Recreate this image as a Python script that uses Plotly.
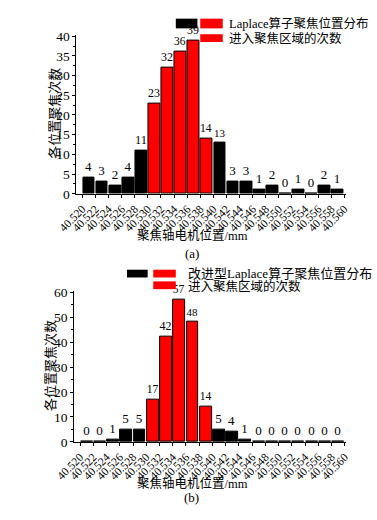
import plotly.graph_objects as go

# ---- data ----
tick_labels = ["40.520", "40.522", "40.524", "40.526", "40.528", "40.530", "40.532",
               "40.534", "40.536", "40.538", "40.540", "40.542", "40.544", "40.546",
               "40.548", "40.550", "40.552", "40.554", "40.556", "40.558", "40.560"]
counts_a = [4, 3, 2, 4, 11, 23, 32, 36, 39, 14, 13, 3, 3, 1, 2, 0, 1, 0, 2, 1]
counts_b = [0, 0, 1, 5, 5, 17, 42, 57, 48, 14, 5, 4, 1, 0, 0, 0, 0, 0, 0, 0]
in_focus = [0, 0, 0, 0, 0, 1, 1, 1, 1, 1, 0, 0, 0, 0, 0, 0, 0, 0, 0, 0]
legend_a = ["Laplace算子聚焦位置分布", "进入聚焦区域的次数"]
legend_b = ["改进型Laplace算子聚焦位置分布", "进入聚焦区域的次数"]
x_title = "聚焦轴电机位置/mm"
y_title = "各位置聚焦次数"

edges = [float(t) for t in tick_labels]
centers = [(edges[i] + edges[i + 1]) / 2 for i in range(len(edges) - 1)]
bin_w = edges[1] - edges[0]

RED = "#ff0000"
BLACK = "#000000"
colors = [RED if f else BLACK for f in in_focus]
FONT = "Liberation Serif, Noto Sans CJK SC, serif"
H = 520.0
W = 377.0

fig = go.Figure()
for vals, xa, ya in [(counts_a, "x", "y"), (counts_b, "x2", "y2")]:
    fig.add_trace(go.Bar(
        x=centers, y=vals, width=bin_w * 0.9,
        marker=dict(color=colors, line=dict(color="black", width=1)),
        text=[str(v) for v in vals], textposition="outside",
        textfont=dict(family=FONT, size=13, color="black"),
        cliponaxis=False, xaxis=xa, yaxis=ya, showlegend=False,
    ))

xcommon = dict(
    tickmode="array", tickvals=edges, ticktext=tick_labels, tickangle=-45,
    tickfont=dict(family=FONT, size=11.5, color="black"),
    showline=True, linecolor="black", linewidth=1, ticks="outside", ticklen=3,
    tickcolor="black", showgrid=False, zeroline=False,
)
ycommon = dict(
    tickfont=dict(family=FONT, size=13.5, color="black"),
    showline=True, linecolor="black", linewidth=1, ticks="outside", ticklen=3,
    tickcolor="black", showgrid=False, zeroline=False,
)

fig.update_layout(
    width=377, height=520,
    margin=dict(l=0, r=0, t=0, b=0),
    paper_bgcolor="white", plot_bgcolor="white",
    font=dict(family=FONT, color="black"),
    bargap=0,
    xaxis=dict(domain=[61.2 / W, 347.9 / W], range=[40.5191, 40.5602], anchor="y", **xcommon),
    yaxis=dict(domain=[(H - 193) / H, (H - 29.4) / H], range=[0, 40.4], anchor="x",
               tickvals=[0, 5, 10, 15, 20, 25, 30, 35, 40],
               minor=dict(dtick=2.5, ticks="outside", ticklen=2, tickcolor="black"),
               **ycommon),
    xaxis2=dict(domain=[58.7 / W, 348.4 / W], range=[40.5191, 40.5602], anchor="y2", **xcommon),
    yaxis2=dict(domain=[(H - 448) / H, (H - 292.5) / H], range=[0, 60.6], anchor="x2",
                tickvals=[0, 10, 20, 30, 40, 50, 60],
                minor=dict(dtick=5, ticks="outside", ticklen=2, tickcolor="black"),
                **ycommon),
)

def px_y(y):
    return (H - y) / H

def px_x(x):
    return x / W

shapes = []
annotations = []

def rect(x0, y0, x1, y1, color):
    shapes.append(dict(type="rect", xref="paper", yref="paper",
                       x0=px_x(x0), x1=px_x(x1), y0=px_y(y1), y1=px_y(y0),
                       fillcolor=color, line=dict(width=0)))

def text(x, y, s, size=13, xanchor="left", angle=0):
    annotations.append(dict(xref="paper", yref="paper", x=px_x(x), y=px_y(y), text=s,
                            showarrow=False, xanchor=xanchor, yanchor="middle",
                            textangle=angle,
                            font=dict(family=FONT, size=size, color="black")))

# legend (a)
rect(167, 13, 190, 23, BLACK)
rect(193, 13, 217, 23, RED)
rect(193, 29, 217, 37, RED)
text(222, 18, legend_a[0], size=12.5)
text(222, 33, legend_a[1], size=12.5)
# legend (b)
rect(115, 271, 137, 279, BLACK)
rect(143, 271, 167, 279, RED)
rect(143, 283, 167, 291, RED)
text(178, 275, legend_b[0], size=13)
text(178, 288, legend_b[1], size=12.5)

# axis titles and captions
text(185, 236, x_title, size=12.5, xanchor="center")
text(184, 254, "(a)", size=13, xanchor="center")
text(185, 491, x_title, size=12.5, xanchor="center")
text(184, 505, "(b)", size=13, xanchor="center")
text(37, 110, y_title, size=13, xanchor="center", angle=-90)
text(33, 369, y_title, size=13, xanchor="center", angle=-90)

fig.update_layout(shapes=shapes, annotations=annotations)
fig.write_html("out.html", config={"displayModeBar": False},
               post_script="document.body.style.margin='0';document.body.style.padding='0';"
                           "document.body.style.overflow='hidden';"
                           "document.documentElement.style.overflow='hidden';")
